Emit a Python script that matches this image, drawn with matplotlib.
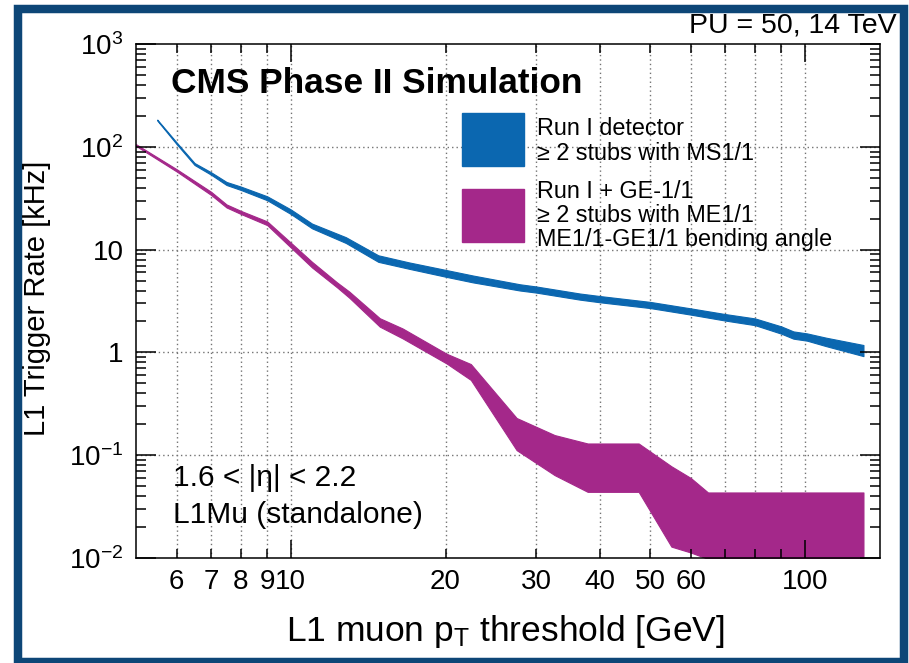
import numpy as np
import matplotlib
matplotlib.use("Agg")
import matplotlib.pyplot as plt
from matplotlib.patches import Rectangle
from matplotlib.ticker import LogLocator, NullFormatter

# L1 trigger rate bands [kHz] vs pT threshold [GeV], lower / upper edges
pt_run1 = [5.5, 6.0, 6.5, 7.0, 7.5, 8.0, 9.0, 10, 11, 12.8, 14.8, 17, 20, 22.6,
           27.9, 30, 36.5, 40, 50, 60, 70, 80, 90, 95, 101, 110, 130]
run1_lo = [180, 106, 66.5, 53.5, 42.5, 38, 30.2, 22.2, 16.1, 11.6, 7.6, 6.5, 5.45, 4.8,
           4.0, 3.82, 3.26, 3.07, 2.7, 2.33, 2.04, 1.84, 1.52, 1.36, 1.3, 1.15, 0.92]
run1_hi = [184, 110, 69.5, 56.5, 45.5, 41, 33, 24.6, 17.9, 13.2, 8.8, 7.5, 6.35, 5.6,
           4.6, 4.38, 3.74, 3.53, 3.1, 2.68, 2.36, 2.14, 1.79, 1.6, 1.53, 1.39, 1.18]

pt_ge11 = [5.0, 6.0, 7.0, 7.5, 8.0, 9.0, 10, 11, 12.3, 13, 14.9, 16.5, 20.1, 22.4,
           27.5, 32.6, 37.8, 47.5, 55, 60, 64.8, 70, 130]
ge11_lo = [102, 57.5, 34, 25.7, 22.2, 17.3, 10.5, 6.7, 4.3, 3.4, 1.78, 1.37, 0.78, 0.54,
           0.112, 0.064, 0.044, 0.044, 0.0129, 0.0113, 0.0098, 0.008, 0.008]
ge11_hi = [106, 60.5, 36.5, 27.5, 23.8, 18.8, 11.7, 7.6, 4.8, 3.9, 2.15, 1.71, 0.97, 0.77,
           0.23, 0.157, 0.13, 0.13, 0.078, 0.060, 0.0434, 0.0434, 0.0434]

x_major = [10, 100]
x_major_labels = ["10", "100"]
x_minor = [6, 7, 8, 9, 20, 30, 40, 50, 60, 70, 80, 90]
x_minor_labels = ["6", "7", "8", "9", "20", "30", "40", "50", "60", "", "", ""]
y_major = [1e-2, 1e-1, 1, 10, 1e2, 1e3]
y_labels = [r"$10^{-2}$", r"$10^{-1}$", "1", "10", r"$10^{2}$", r"$10^{3}$"]

legend_run1 = ["Run I detector", "\u2265 2 stubs with MS1/1"]
legend_ge11 = ["Run I + GE-1/1", "\u2265 2 stubs with ME1/1", "ME1/1-GE1/1 bending angle"]

blue = "#0b67b0"
purple = "#a4288a"

plt.rcParams["font.family"] = ["Liberation Sans", "DejaVu Sans"]
plt.rcParams["mathtext.fontset"] = "custom"
plt.rcParams["mathtext.rm"] = "Liberation Sans"
plt.rcParams["mathtext.it"] = "Liberation Sans:italic"

W, H = 909, 663
fig = plt.figure(figsize=(W / 100, H / 100), dpi=100)
ax = fig.add_axes([136 / W, 105 / H, 744 / W, 514 / H])
ax.set_xscale("log")
ax.set_yscale("log")
ax.set_xlim(5, 140)
ax.set_ylim(1e-2, 1e3)

# dotted grid, kept under the bands
ax.vlines(x_major + x_minor, 1e-2, 1e3, colors="0.45", linestyles=(0, (1, 2.2)),
          lw=1.0, zorder=0.5)
ax.hlines(y_major[1:-1], 5, 140, colors="0.45", linestyles=(0, (1, 2.2)),
          lw=1.0, zorder=0.5)

ax.fill_between(pt_run1, run1_lo, run1_hi, color=blue, lw=0.8, zorder=1)
ax.fill_between(pt_ge11, ge11_lo, ge11_hi, color=purple, lw=0.8, zorder=1)

ax.set_xticks(x_major, x_major_labels)
ax.set_xticks(x_minor, x_minor_labels, minor=True)
ax.set_yticks(y_major, y_labels)
ax.yaxis.set_minor_locator(LogLocator(base=10, subs=np.arange(2, 10)))
ax.yaxis.set_minor_formatter(NullFormatter())

ax.tick_params(which="both", direction="in", top=True, right=True,
               labelsize=20, width=1.1)
ax.tick_params(axis="y", which="major", length=14.4, pad=9)
ax.tick_params(axis="y", which="minor", length=7.2)
ax.tick_params(axis="x", which="major", length=13, pad=8)
ax.tick_params(axis="x", which="minor", length=6.5, pad=8)
for s in ax.spines.values():
    s.set_linewidth(1.1)

ax.set_xlabel(r"L1 muon p$_{\mathrm{T}}$ threshold [GeV]", fontsize=25.5)
ax.xaxis.set_label_coords(0.497, -0.107)
fig.text(23 / W, 1 - 298 / H, "L1 Trigger Rate [kHz]", fontsize=21, rotation=90,
         ha="left", va="center")

ax.text(0.047, 0.9047, "CMS Phase II Simulation", fontsize=25.4, fontweight="bold",
        va="baseline", transform=ax.transAxes)
fig.text(897 / W, 1 - 33 / H, "PU = 50, 14 TeV", fontsize=20.5, ha="right", va="baseline")

ax.text(0.0497, 0.140, "1.6 < |\u03b7| < 2.2", fontsize=21.5, va="baseline",
        transform=ax.transAxes)
ax.text(0.0497, 0.068, "L1Mu (standalone)", fontsize=21.5, va="baseline",
        transform=ax.transAxes)

# legend
ax.add_patch(Rectangle((0.4382, 0.7626), 0.0833, 0.1032, transform=ax.transAxes,
                       color=blue, zorder=3))
ax.add_patch(Rectangle((0.4382, 0.6148), 0.0833, 0.1032, transform=ax.transAxes,
                       color=purple, zorder=3))
for i, line in enumerate(legend_run1):
    ax.text(0.539, 0.823 - i * 0.048, line, fontsize=16.8, va="baseline",
            transform=ax.transAxes)
for i, line in enumerate(legend_ge11):
    ax.text(0.539, 0.7004 - i * 0.0467, line, fontsize=16.8, va="baseline",
            transform=ax.transAxes)

# frame round the whole figure
fig.patches.append(Rectangle((18 / W, 1 - 662 / H), (903.5 - 18) / W, (662 - 8.5) / H,
                             transform=fig.transFigure, fill=False,
                             ec="#0d4677", lw=6.1))

fig.savefig("out.png", dpi=100)
